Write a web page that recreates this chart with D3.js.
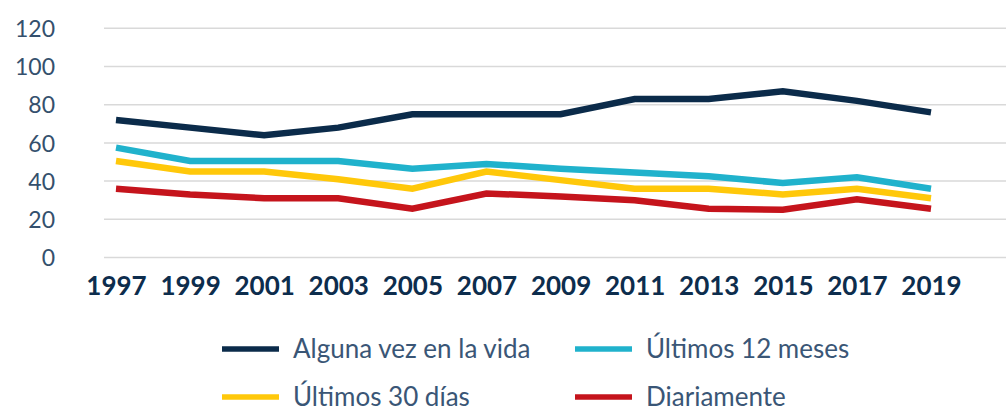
<!DOCTYPE html>
<html>
<head>
<meta charset="utf-8">
<script src="https://cdn.jsdelivr.net/npm/d3@7"></script>
<style>
  html, body { margin: 0; padding: 0; background: #fff; }
  svg { display: block; }
  svg text { font-family: 'Lato', 'Lato Regular', sans-serif; }
  .grid line { stroke: #d9d9d9; stroke-width: 1.5; }
  .x-axis text { font-size: 26px; font-weight: 700; fill: #0d2d4d; }
  .y-axis text { font-size: 23px; fill: #34506d; }
  .legend text { font-size: 26px; fill: #3a5676; }
</style>
</head>
<body>
<svg id="chart" width="1006" height="408"></svg>
<script>
const years = [1997, 1999, 2001, 2003, 2005, 2007, 2009, 2011, 2013, 2015, 2017, 2019];
const yTicks = [0, 20, 40, 60, 80, 100, 120];

const algunaVez = [72, 68, 64, 68, 75, 75, 75, 83, 83, 87, 82, 76];
const ultimos12 = [57.5, 50.5, 50.5, 50.5, 46.5, 49, 46.5, 44.5, 42.5, 39, 42, 36];
const ultimos30 = [50.5, 45, 45, 41, 36, 45, 40.5, 36, 36, 33, 36, 31];
const diariamente = [36, 33, 31, 31, 25.5, 33.5, 32, 30, 25.5, 25, 30.5, 25.5];

const seriesNames = ['Alguna vez en la vida', 'Últimos 12 meses', 'Últimos 30 días', 'Diariamente'];
const seriesColors = ['#0b2b4a', '#20b2cc', '#ffc80a', '#c5141c'];
const seriesValues = [algunaVez, ultimos12, ultimos30, diariamente];

const svg = d3.select('#chart');

const x = d3.scalePoint().domain(years).range([116, 931]);
const y = d3.scaleLinear().domain([0, 120]).range([257.5, 28.3]);

// horizontal grid
svg.append('g')
  .attr('class', 'grid')
  .selectAll('line')
  .data(yTicks)
  .join('line')
  .attr('x1', 104)
  .attr('x2', 1006)
  .attr('y1', (d) => y(d))
  .attr('y2', (d) => y(d));

// y axis labels
const yAxis = svg.append('g')
  .attr('class', 'y-axis')
  .attr('transform', 'translate(55,0)')
  .call(d3.axisLeft(y).tickValues(yTicks).tickSize(0).tickPadding(0));
yAxis.select('.domain').remove();
yAxis.selectAll('text').attr('dy', '0.36em');

// x axis labels
const xAxis = svg.append('g')
  .attr('class', 'x-axis')
  .attr('transform', 'translate(0,276)')
  .call(d3.axisBottom(x).tickSize(0).tickPadding(0));
xAxis.select('.domain').remove();
xAxis.selectAll('text').attr('dy', '0.72em');

// lines
const line = d3.line()
  .x((d, i) => x(years[i]))
  .y((d) => y(d));

svg.append('g')
  .selectAll('path')
  .data(seriesValues)
  .join('path')
  .attr('d', line)
  .attr('fill', 'none')
  .attr('stroke', (d, i) => seriesColors[i])
  .attr('stroke-width', 6.5);

// legend
const legendPos = [[222, 349], [575, 349], [222, 397], [575, 397]];
const legend = svg.append('g')
  .attr('class', 'legend')
  .selectAll('g')
  .data(seriesNames)
  .join('g')
  .attr('transform', (d, i) => `translate(${legendPos[i][0]},${legendPos[i][1]})`);

legend.append('line')
  .attr('x1', 0)
  .attr('x2', 57)
  .attr('stroke', (d, i) => seriesColors[i])
  .attr('stroke-width', 5.5);

legend.append('text')
  .attr('x', 71)
  .attr('y', 9)
  .text((d) => d);
</script>
</body>
</html>
